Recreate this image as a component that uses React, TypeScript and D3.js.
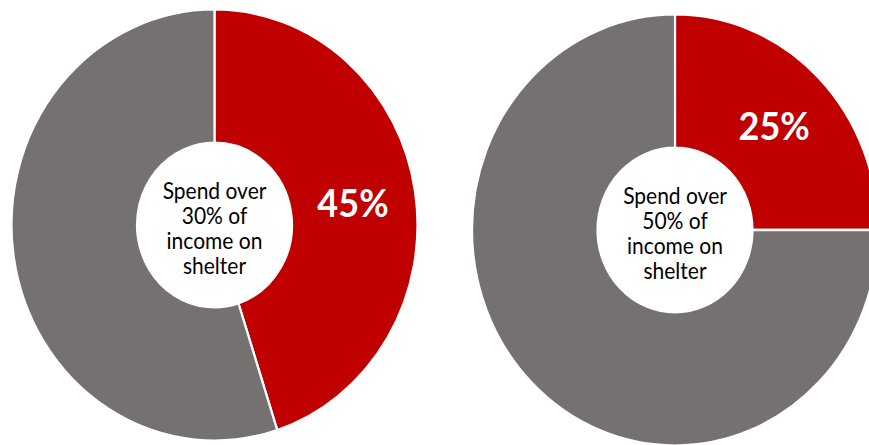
import React from "react";
import * as d3 from "d3";

const charts = ["30%", "50%"];
const shares = [45, 25];
const centerLines = [
  ["Spend over", "30% of", "income on", "shelter"],
  ["Spend over", "50% of", "income on", "shelter"],
];
const sliceNames = ["Spend over", "Other"];
const colors = ["#C00000", "#767171"];

const W = 869;
const H = 445;
const centers = [
  { x: 214.5, y: 225 },
  { x: 675, y: 230 },
];
const R_OUT = 203;
const R_IN = 77.5;
const SY = 1.062;

export default function App() {
  const pie = d3
    .pie<{ name: string; value: number }>()
    .sort(null)
    .value((d) => d.value);
  const arc = d3
    .arc<d3.PieArcDatum<{ name: string; value: number }>>()
    .innerRadius(R_IN)
    .outerRadius(R_OUT);

  return (
    <svg
      width={W}
      height={H}
      style={{ position: "absolute", left: 0, top: 0, background: "#fff" }}
    >
      {charts.map((c, i) => {
        const data = [
          { name: sliceNames[0], value: shares[i] },
          { name: sliceNames[1], value: 100 - shares[i] },
        ];
        const arcs = pie(data);
        const [lx, ly] = arc.centroid(arcs[0]);
        return (
          <g
            key={c}
            transform={`translate(${centers[i].x},${centers[i].y}) scale(1,${SY})`}
          >
            {arcs.map((a, j) => (
              <path
                key={j}
                d={arc(a) || ""}
                fill={colors[j]}
                stroke="#fff"
                strokeWidth={2.2}
              />
            ))}
            <circle r={R_IN} fill="#fff" />
            <text
              x={lx}
              y={ly}
              textAnchor="middle"
              dominantBaseline="central"
              fill="#fff"
              fontFamily="Lato, sans-serif"
              fontWeight="bold"
              fontSize={36}
            >
              {shares[i]}%
            </text>
            {centerLines[i].map((t, k) => (
              <text
                key={k}
                x={0}
                y={-24.5 + k * 23.5}
                textAnchor="middle"
                fill="#000"
                fontFamily="Lato, sans-serif"
                fontSize={21}
              >
                {t}
              </text>
            ))}
          </g>
        );
      })}
    </svg>
  );
}
